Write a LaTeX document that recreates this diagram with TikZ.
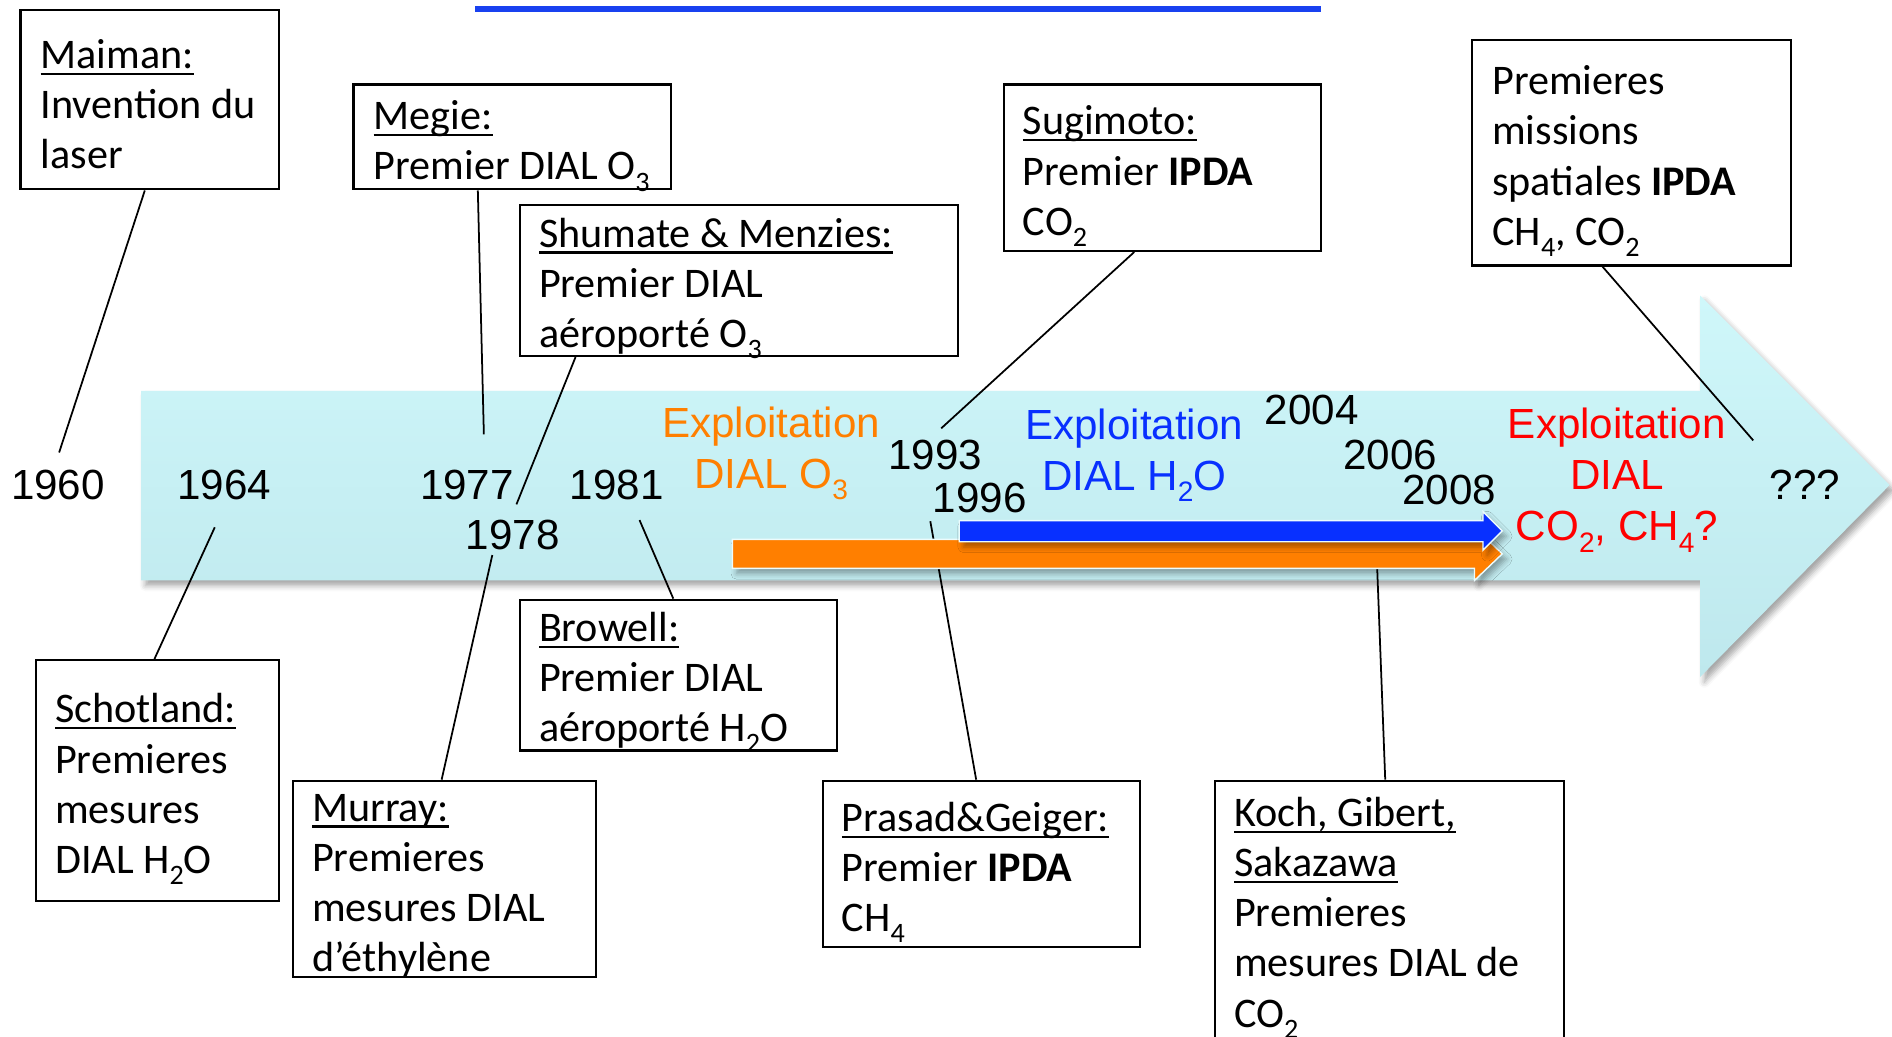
\documentclass[tikz,border=0pt]{standalone}
\usepackage{fontspec}
\setmainfont{Carlito}
\newfontfamily\arialfont{Liberation Sans}
\usetikzlibrary{positioning,calc,shadows.blur}
\newlength\px
\setlength\px{0.012066cm}
\definecolor{arrowtop}{RGB}{207,247,250}
\definecolor{arrowbot}{RGB}{190,232,237}
\definecolor{dialorange}{RGB}{255,127,0}
\definecolor{dialblue}{RGB}{8,48,255}
\definecolor{dialred}{RGB}{255,0,0}
\definecolor{rulerblue}{RGB}{25,65,240}
\newcommand{\uln}[1]{\setbox0\hbox{#1}\rlap{\rule[-1.9pt]{\wd0}{0.65pt}}\box0}
\newcommand{\sbs}[1]{\raisebox{-3.2pt}{\fontsize{8pt}{8pt}\selectfont#1}}

\begin{document}
\begin{tikzpicture}[x=0.012066cm,y=-0.012066cm,
  evbox/.style={draw=black,line width=0.6pt,inner sep=0pt},
  evtext/.style={font=\fontsize{12pt}{14.3pt}\selectfont,align=left,inner sep=0pt,anchor=west},
  evyear/.style={font=\arialfont\fontsize{12pt}{14pt}\selectfont,inner sep=0pt},
  evlabel/.style={font=\arialfont\fontsize{12pt}{14.5pt}\selectfont,align=center,inner sep=0pt},
  evline/.style={line width=0.5pt},
  evshadow/.style={blur shadow={shadow xshift=1.2pt,shadow yshift=-1.5pt,shadow blur radius=1.6pt,shadow opacity=35}}]
\useasboundingbox (0,0) rectangle (1568,859);

% Blue rule at the top
\draw[rulerblue,line width=1.6pt] (394,7.5) -- (1095,7.5);

% Big timeline arrow
\path[evshadow,top color=arrowtop,bottom color=arrowbot]
  (117,324) -- (1409,324) -- (1409,245) -- (1566,402) -- (1409,561) -- (1409,481) -- (117,481) -- cycle;

% Boxes above the arrow
\node[evbox,minimum width=214\px,minimum height=149\px] (maiman) at (124,82.5) {};
\node[evtext] (maimant) at ([xshift=17\px,yshift=-4\px]maiman.west) {\uln{Maiman:}\\Invention du\\laser};
\node[evbox,minimum width=263\px,minimum height=87\px] (megie) at (424.5,113.5) {};
\node[evtext] (megiet) at ([xshift=17\px,yshift=-7.5\px]megie.west) {\uln{Megie:}\\Premier DIAL O\sbs{3}};
\node[evbox,minimum width=363\px,minimum height=125\px] (shumate) at (612.5,232.5) {};
\node[evtext] (shumatet) at ([xshift=16\px,yshift=-6.5\px]shumate.west) {\uln{Shumate \& Menzies:}\\Premier DIAL\\aéroporté O\sbs{3}};
\node[evbox,minimum width=263\px,minimum height=138\px] (sugimoto) at (963.5,139) {};
\node[evtext] (sugimotot) at ([xshift=16\px,yshift=-7\px]sugimoto.west) {\uln{Sugimoto:}\\Premier \textbf{IPDA}\\CO\sbs{2}};
\node[evbox,minimum width=264\px,minimum height=187\px] (missions) at (1352,126.5) {};
\node[evtext] (missionst) at ([xshift=17\px,yshift=-7\px]missions.west) {Premieres\\missions\\spatiales \textbf{IPDA}\\CH\sbs{4}, CO\sbs{2}};

% Boxes below the arrow
\node[evbox,minimum width=201\px,minimum height=200\px] (schotland) at (130.5,647) {};
\node[evtext] (schotlandt) at ([xshift=16\px,yshift=-7\px]schotland.west) {\uln{Schotland:}\\Premieres\\mesures\\DIAL H\sbs{2}O};
\node[evbox,minimum width=251\px,minimum height=163\px] (murray) at (368.5,728.5) {};
\node[evtext] (murrayt) at ([xshift=16\px,yshift=-6\px]murray.west) {\uln{Murray:}\\Premieres\\mesures DIAL\\d’éthylène};
\node[evbox,minimum width=263\px,minimum height=125\px] (browell) at (562.5,559.5) {};
\node[evtext] (browellt) at ([xshift=16\px,yshift=-6\px]browell.west) {\uln{Browell:}\\Premier DIAL\\aéroporté H\sbs{2}O};
\node[evbox,minimum width=263\px,minimum height=138\px] (prasad) at (813.5,716) {};
\node[evtext] (prasadt) at ([xshift=16\px,yshift=-7\px]prasad.west) {\uln{Prasad\&Geiger:}\\Premier \textbf{IPDA}\\CH\sbs{4}};
\node[evbox,minimum width=289\px,minimum height=213\px] (koch) at (1151.5,753.5) {};
\node[evtext] (kocht) at ([xshift=16\px,yshift=-7\px]koch.west) {\uln{Koch, Gibert,}\\\uln{Sakazawa}\\Premieres\\mesures DIAL de\\CO\sbs{2}};

% Free ends of the connectors near the years
\coordinate (t1960) at (49,375);
\coordinate (t1964) at (178,437);
\coordinate (t1977) at (401,360);
\coordinate (t1978a) at (428,418);
\coordinate (t1978b) at (408,460);
\coordinate (t1981) at (530,431);
\coordinate (t1993) at (780,355);
\coordinate (t1996) at (771,432);
\coordinate (t2008) at (1141,462);
\coordinate (tfut) at (1453,365);

% Connectors
\draw[evline] ([xshift=-4\px]maiman.south) -- (t1960);
\draw[evline] ([xshift=-28.5\px]megie.south) -- (t1977);
\draw[evline] ([xshift=-135.5\px]shumate.south) -- (t1978a);
\draw[evline] ([xshift=-23.5\px]sugimoto.south) -- (t1993);
\draw[evline] ([xshift=-24\px]missions.south) -- (tfut);
\draw[evline] ([xshift=-2.5\px]schotland.north) -- (t1964);
\draw[evline] ([xshift=-2.5\px]murray.north) -- (t1978b);
\draw[evline] ([xshift=-4.5\px]browell.north) -- (t1981);
\draw[evline] ([xshift=-4.5\px]prasad.north) -- (t1996);
\draw[evline] ([xshift=-3.5\px]koch.north) -- (t2008);

% Exploitation bars
\fill[evshadow,dialorange,draw=arrowtop!40!white,line width=0.4pt]
  (607,447) -- (1222,447) -- (1222,437) -- (1245,459) -- (1222,481) -- (1222,471) -- (607,471) -- cycle;
\fill[evshadow,dialblue,draw=arrowtop!40!white,line width=0.4pt]
  (795,431.5) -- (1229,431.5) -- (1229,424) -- (1245,440) -- (1229,456) -- (1229,449) -- (795,449) -- cycle;

% Years
\node[evyear] (y1960) at (48,402) {1960};
\node[evyear] (y1964) at (186,402) {1964};
\node[evyear] (y1977) at (387,402) {1977};
\node[evyear] (y1978) at (425,443) {1978};
\node[evyear] (y1981) at (511,402) {1981};
\node[evyear] (y1993) at (775,377) {1993};
\node[evyear] (y1996) at (812,413) {1996};
\node[evyear] (y2004) at (1087,340) {2004};
\node[evyear] (y2006) at (1152,377) {2006};
\node[evyear] (y2008) at (1201,406) {2008};
\node[evyear] (yfut) at (1496,402) {???};

% Exploitation labels
\node[evlabel,text=dialorange] (exo3) at (639,376) {Exploitation\\DIAL O\sbs{3}};
\node[evlabel,text=dialblue] (exh2o) at (940,377.5) {Exploitation\\DIAL H\sbs{2}O};
\node[evlabel,text=dialred] (exco2) at (1340,398) {Exploitation\\DIAL\\CO\sbs{2}, CH\sbs{4}?};

\end{tikzpicture}
\end{document}
